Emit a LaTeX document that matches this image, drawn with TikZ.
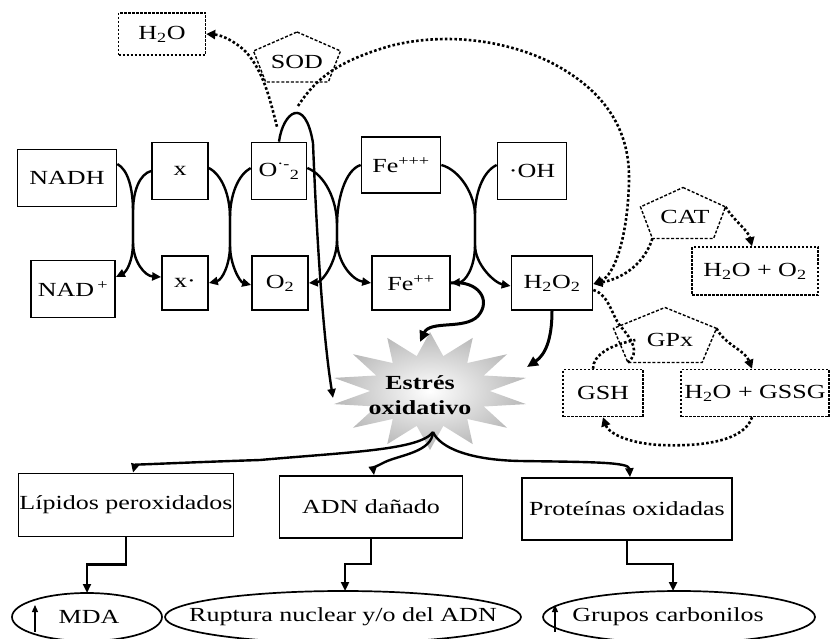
\documentclass[tikz,border=0pt]{standalone}
\usepackage{fontspec}
\setmainfont[FakeStretch=1.3]{Liberation Serif}
\usetikzlibrary{arrows.meta,shapes.geometric,calc}
\tikzset{
  box/.style={draw, line width=1.7pt, inner sep=1pt, align=center},
  dbox/.style={draw, line width=1.5pt, dash pattern=on 2.5pt off 1.5pt, inner sep=1pt},
  ovaltext/.style={inner sep=0pt},
  ovalline/.style={line width=1.7pt},
  flow/.style={line width=2.4pt, -{Triangle[length=9pt,width=8pt]}},
  bigflow/.style={line width=3pt, -{Triangle[length=11pt,width=10pt]}},
  dotline/.style={line width=2.6pt, dash pattern=on 2.6pt off 2.2pt},
  dotarrow/.style={dotline, -{Triangle[length=9pt,width=9pt]}},
  pentline/.style={line width=1.4pt, dash pattern=on 3pt off 1.8pt},
  thinarrow/.style={line width=1.2pt, -{Triangle[length=7pt,width=6pt]}},
  pent/.pic={
    \draw[pentline] (0,-0.5) -- (0.5,-0.12) -- (0.36,0.5) -- (-0.36,0.5) -- (-0.5,-0.12) -- cycle;
    \coordinate (-t) at (0,-0.5);
    \coordinate (-r) at (0.5,-0.12);
    \coordinate (-br) at (0.36,0.5);
    \coordinate (-bl) at (-0.36,0.5);
    \coordinate (-l) at (-0.5,-0.12);
  }
}
\begin{document}
\begin{tikzpicture}[x=1pt,y=-1pt,font=\fontsize{20}{22}\selectfont]
\useasboundingbox (0,0) rectangle (830,639);

% star
\begin{scope}[shift={(430,391)}, xscale=1.67]
\node[star, star points=14, star point ratio=1.65, minimum size=118, inner sep=0pt,
      shade, inner color=white, outer color=gray!55, transform shape] (starbg) at (0,0) {};
\end{scope}
\node[font=\fontsize{20}{25}\selectfont\bfseries, align=center] (ES) at (420,395) {Estrés\\oxidativo};
\coordinate (stL) at (333,398);
\coordinate (stT) at (420,342);
\coordinate (stR) at (527,367);
\coordinate (stB) at (433,432);

% top row
\node[box, minimum width=99, minimum height=57] (NADH) at (67,178) {NADH};
\node[box, minimum width=56, minimum height=57] (X) at (180,171) {x};
\node[box, minimum width=55, minimum height=57] (Osup) at (279,171) {O\textsuperscript{·-}\textsubscript{2}};
\node[box, minimum width=79, minimum height=56] (Fe3) at (401,165) {Fe\textsuperscript{+++}};
\node[box, minimum width=69, minimum height=57] (OH) at (532,171) {·OH};
% bottom row
\node[box, minimum width=84, minimum height=57] (NADp) at (73,289) {NAD\,\textsuperscript{+}};
\node[box, minimum width=46, minimum height=54] (Xd) at (185,283) {x·};
\node[box, minimum width=56, minimum height=54] (O2) at (280,283) {O\textsubscript{2}};
\node[box, minimum width=78, minimum height=54] (Fe2) at (411,283) {Fe\textsuperscript{++}};
\node[box, minimum width=81, minimum height=54] (H2O2) at (552,283) {H\textsubscript{2}O\textsubscript{2}};

% dotted boxes
\node[dbox, minimum width=87, minimum height=42] (H2Ot) at (162,34) {H\textsubscript{2}O};
\node[dbox, minimum width=126, minimum height=48] (H2OO2) at (755,271) {H\textsubscript{2}O + O\textsubscript{2}};
\node[dbox, minimum width=80, minimum height=47] (GSH) at (603,393) {GSH};
\node[dbox, minimum width=148, minimum height=47] (GSSG) at (755,393) {H\textsubscript{2}O + GSSG};

% pentagons
\pic[xscale=87, yscale=50] (sodp) at (297,57) {pent};
\node (SOD) at (297,62) {SOD};
\pic[xscale=85, yscale=51] (catp) at (683,213) {pent};
\node (CAT) at (685,217) {CAT};
\pic[xscale=103, yscale=55] (gpxp) at (665,335) {pent};
\node (GPx) at (670,340) {GPx};

% bottom boxes
\node[box, minimum width=209, minimum height=63] (Lip) at (126,505) {Lípidos peroxidados};
\node[box, minimum width=183, minimum height=62] (ADN) at (371,507) {ADN dañado};
\node[box, minimum width=210, minimum height=62] (Prot) at (627,509) {Proteínas oxidadas};
\node[ovaltext] (MDA) at (89,617) {MDA};
\node[ovaltext] (Rup) at (343,617) {Ruptura nuclear y/o del ADN};
\node[ovaltext] (Grup) at (668,617) {Grupos carbonilos};
\draw[ovalline] (87,617) ellipse [x radius=75, y radius=24];
\draw[ovalline] (343,617) ellipse [x radius=178, y radius=26];
\draw[ovalline] (679,617) ellipse [x radius=136, y radius=26];
\coordinate (MDAn) at (87,593);
\coordinate (Rupn) at (345,591);
\coordinate (Grupn) at (673,591);

% redox couples
\draw[flow] ([yshift=14]NADH.east) .. controls (128,170) and (133,188) .. (133,212) -- (133,242) .. controls (133,262) and (126,272) .. ([yshift=12]NADp.east);
\draw[flow] (X.west) .. controls (140,174) and (133,190) .. (133,212) -- (133,242) .. controls (133,262) and (145,276) .. ([yshift=6]Xd.west);

\draw[flow] ([yshift=3]X.east) .. controls (222,175) and (230,195) .. (230,218) -- (230,245) .. controls (230,265) and (222,280) .. (Xd.east);
\draw[flow] ([yshift=3]Osup.west) .. controls (238,175) and (230,195) .. (230,218) -- (230,245) .. controls (230,265) and (240,282) .. ([yshift=-2]O2.west);

\draw[flow] ([yshift=3]Osup.east) .. controls (325,175) and (337,200) .. (337,225) -- (337,240) .. controls (337,262) and (352,280) .. (Fe2.west);
\draw[flow] (Fe3.west) .. controls (345,170) and (337,200) .. (337,225) -- (337,240) .. controls (337,262) and (322,282) .. (O2.east);

\draw[flow] (Fe3.east) .. controls (460,170) and (475,195) .. (475,215) -- (475,245) .. controls (475,265) and (495,283) .. ([yshift=-3]H2O2.west);
\draw[flow] ([yshift=6]OH.west) .. controls (482,172) and (475,195) .. (475,215) -- (475,245) .. controls (475,268) and (465,282) .. (Fe2.east);

% to the star
\draw[bigflow] (Fe2.east) .. controls (478,280) and (492,300) .. (478,316) .. controls (465,330) and (430,320) .. (stT);
\draw[bigflow] (H2O2.south) .. controls (552,340) and (545,355) .. (stR);
\coordinate (apex) at (298,106);
\draw[flow] (Osup.north) .. controls (283,112) and (305,95) .. (313,143) .. controls (316,220) and (322,330) .. (stL);

% SOD branch
\draw[dotarrow] ([xshift=-2,yshift=15]Osup.north) .. controls (270,100) and (264,72) .. (246,52) .. controls (236,42) and (222,35) .. (H2Ot.east);
\draw[dotarrow] (apex) .. controls (315,80) and (335,62) .. (390,46) .. controls (440,33) and (500,38) .. (550,62) .. controls (605,90) and (630,130) .. (629,180) .. controls (628,235) and (615,275) .. ([yshift=-1]H2O2.east);

% CAT branch
\draw[dotarrow] (catp-bl) .. controls (645,262) and (625,278) .. ([yshift=-1]H2O2.east);
\draw[dotarrow] (catp-r) .. controls (735,222) and (748,230) .. ([xshift=-3]H2OO2.north);

% GPx branch
\draw[dotline] ([yshift=-7]H2O2.east) .. controls (610,295) and (612,318) .. (622,328) .. controls (632,340) and (640,352) .. (gpxp-bl);
\draw[dotline] ([xshift=-10]GSH.north) .. controls (593,355) and (610,345) .. ([xshift=-8]GPx.west);
\draw[dotarrow] (gpxp-r) .. controls (725,345) and (745,350) .. ([xshift=-3]GSSG.north);
\draw[dotarrow] ([xshift=-3]GSSG.south) .. controls (745,440) and (705,447) .. (660,445) .. controls (625,443) and (608,432) .. (GSH.south);

% consequences
\draw[flow] (stB) .. controls (420,450) and (350,452) .. (260,460) .. controls (170,463) and (135,465) .. ([xshift=7]Lip.north);
\draw[flow] (stB) .. controls (432,452) and (400,455) .. (385,462) .. controls (375,467) and (373,468) .. ([xshift=3]ADN.north);
\draw[flow] (stB) .. controls (440,448) and (470,460) .. (520,461) .. controls (590,462) and (629,462) .. ([xshift=3]Prot.north);

\draw[flow] (Lip.south) -- ([yshift=-27]Lip.south) -| (MDAn);
\draw[flow] (ADN.south) -- ([yshift=-25]ADN.south) -| (Rupn);
\draw[flow] (Prot.south) -- ([yshift=-23]Prot.south) -| (Grupn);

\draw[thinarrow] ([xshift=-54,yshift=-15]MDA.center) -- ([xshift=-54,yshift=12]MDA.center);
\draw[thinarrow] ([xshift=-113,yshift=-15]Grup.center) -- ([xshift=-113,yshift=12]Grup.center);
\end{tikzpicture}
\end{document}
